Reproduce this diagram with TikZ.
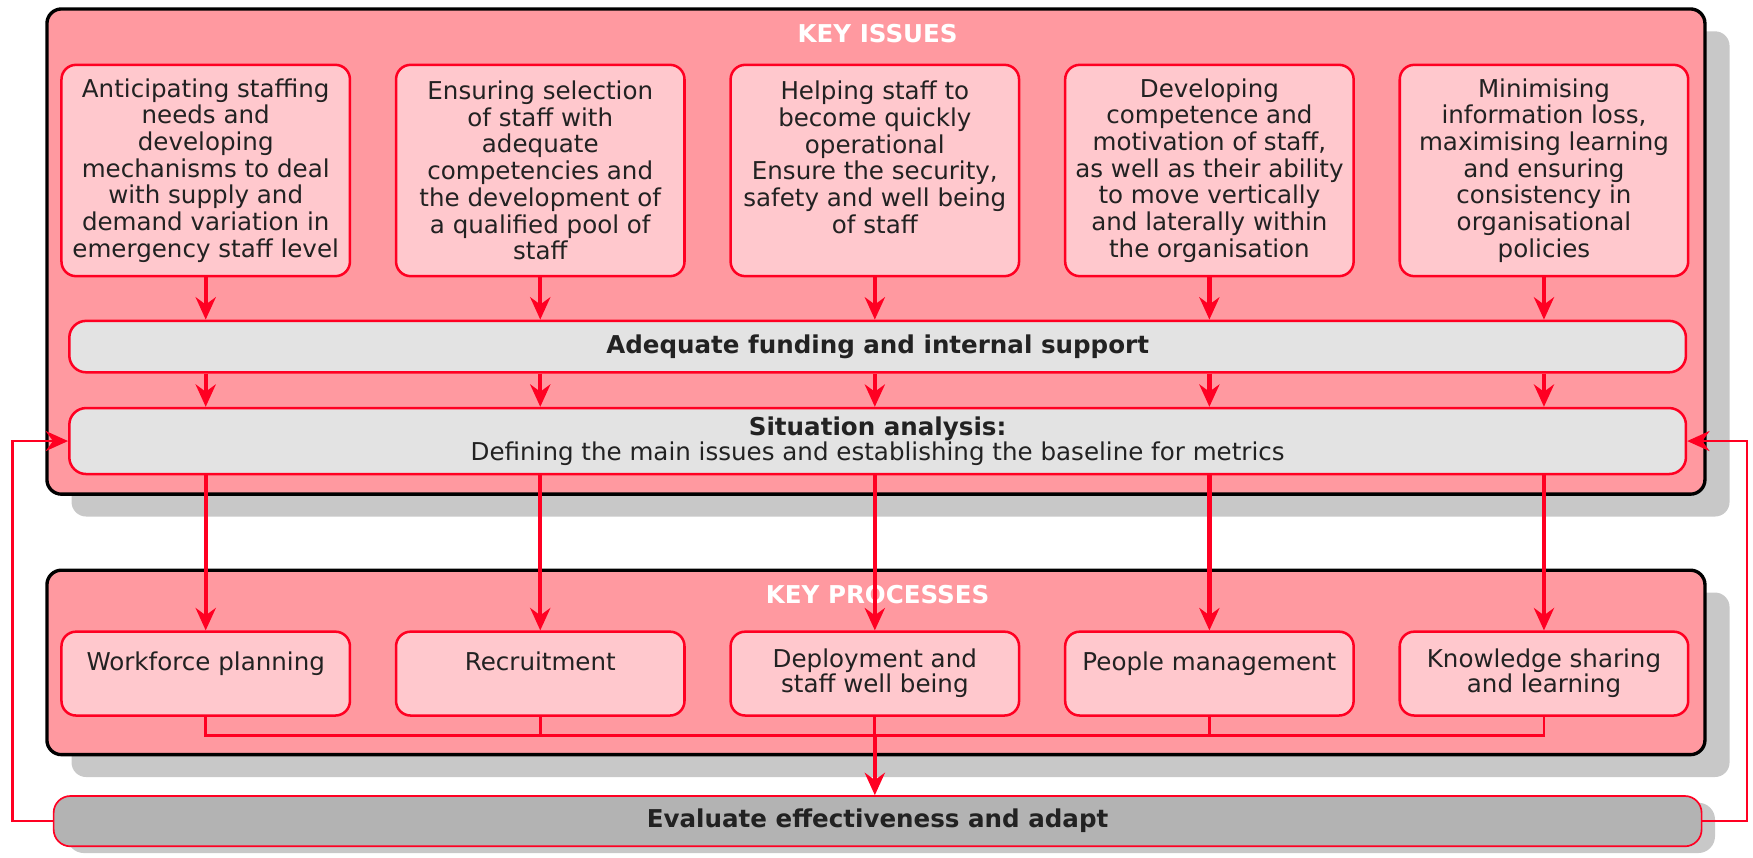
\documentclass[tikz,border=0pt]{standalone}
\usepackage{fontspec}
\setmainfont{DejaVu Sans}
\usetikzlibrary{arrows.meta, positioning, shadows, calc}

\definecolor{panelpink}{RGB}{255,153,160}
\definecolor{boxpink}{RGB}{255,200,205}
\definecolor{flowred}{RGB}{255,0,34}
\definecolor{bargray}{RGB}{227,227,227}
\definecolor{evalgray}{RGB}{179,179,179}
\definecolor{shadowgray}{RGB}{200,200,200}
\definecolor{textgray}{RGB}{34,34,34}

\begin{document}
\begin{tikzpicture}[x=0.2mm, y=-0.2mm,
    panel/.style={draw=black, line width=0.6mm, rounded corners=2.6mm, fill=panelpink, minimum width=296.6mm,
        drop shadow={shadow xshift=4.4mm, shadow yshift=-4mm, fill=shadowgray, opacity=1}},
    paneltitle/.style={text=white, font=\fontsize{12.5}{14}\selectfont\bfseries},
    issue/.style={draw=flowred, line width=0.45mm, fill=boxpink, rounded corners=2.6mm, minimum width=51.6mm,
        minimum height=37.8mm, align=center, inner sep=0.5mm, text=textgray, font=\fontsize{12.5}{13.6}\selectfont},
    proc/.style={issue, minimum height=15mm, font=\fontsize{12.5}{12.6}\selectfont},
    bar/.style={draw=flowred, line width=0.45mm, fill=bargray, rounded corners=3mm, minimum width=289.2mm,
        minimum height=9.2mm, align=center, text=textgray, font=\fontsize{12.5}{12.6}\selectfont},
    evalbar/.style={bar, line width=0.3mm, fill=evalgray, minimum width=294.8mm, minimum height=9mm,
        drop shadow={shadow xshift=2.4mm, shadow yshift=-1.2mm, fill=shadowgray, opacity=1}},
    flow/.style={draw=flowred, line width=0.75mm, -{Stealth[length=4mm, width=3.6mm, inset=1.3mm]}},
    link/.style={draw=flowred, line width=0.5mm},
    loop/.style={flow, line width=0.4mm}]

\useasboundingbox (0,0) rectangle (1568,767);

% the two shaded panels
\node[panel, minimum height=86.8mm] (issues) at (783.5,225) {};
\node[panel, minimum height=33mm] (processes) at (783.5,592.5) {};
\node[paneltitle] (issuestitle) at (785,30) {KEY ISSUES};
\node[paneltitle] (processtitle) at (785,532) {KEY PROCESSES};

% key issues
\node[issue] (i1) at (184,152.5) {Anticipating staffing\\needs and\\developing\\mechanisms to deal\\with supply and\\demand variation in\\emergency staff level};
\node[issue, right=7.8mm of i1] (i2) {Ensuring selection\\of staff with\\adequate\\competencies and\\the development of\\a qualified pool of\\staff};
\node[issue, right=7.8mm of i2] (i3) {Helping staff to\\become quickly\\operational\\Ensure the security,\\safety and well being\\of staff\\\mbox{}};
\node[issue, right=7.8mm of i3] (i4) {Developing\\competence and\\motivation of staff,\\as well as their ability\\to move vertically\\and laterally within\\the organisation};
\node[issue, right=7.8mm of i4] (i5) {Minimising\\information loss,\\maximising learning\\and ensuring\\consistency in\\organisational\\policies};

% funding and situation bars
\node[bar] (fund) at (785,310) {\bfseries Adequate funding and internal support};
\node[bar, minimum height=11.8mm] (sit) at (785,394.5) {\textbf{Situation analysis:}\\Defining the main issues and establishing the baseline for metrics};

% key processes
\node[proc] (p1) at (184,602.5) {Workforce planning\\\mbox{}};
\node[proc, right=7.8mm of p1] (p2) {Recruitment\\\mbox{}};
\node[proc, right=7.8mm of p2] (p3) {Deployment and\\staff well being};
\node[proc, right=7.8mm of p3] (p4) {People management\\\mbox{}};
\node[proc, right=7.8mm of p4] (p5) {Knowledge sharing\\and learning};

% evaluation
\node[evalbar] (eval) at (785,734.5) {\bfseries Evaluate effectiveness and adapt};

% arrows down through the columns
\foreach \n in {1,...,5} {
    \draw[flow] (i\n) -- (i\n |- fund.north);
    \draw[flow] (i\n |- fund.south) -- (i\n |- sit.north);
    \draw[flow] (i\n |- sit.south) -- (p\n);
}

% processes join up and feed the evaluation
\draw[link] (p1.south) -- ++(0,17) -| (p5.south);
\coordinate (join) at ($(p3.south)+(0,17)$);
\draw[link] (p2.south) -- (p2.south |- join);
\draw[link] (p4.south) -- (p4.south |- join);
\draw[link] (p3.south) -- (join);
\draw[flow] (join) -- (join |- eval.north);

% feedback loops
\draw[loop] (eval.west) -- ++(-36,0) |- (sit.west);
\draw[loop] (eval.east) -- ++(40,0) |- (sit.east);
\end{tikzpicture}
\end{document}
